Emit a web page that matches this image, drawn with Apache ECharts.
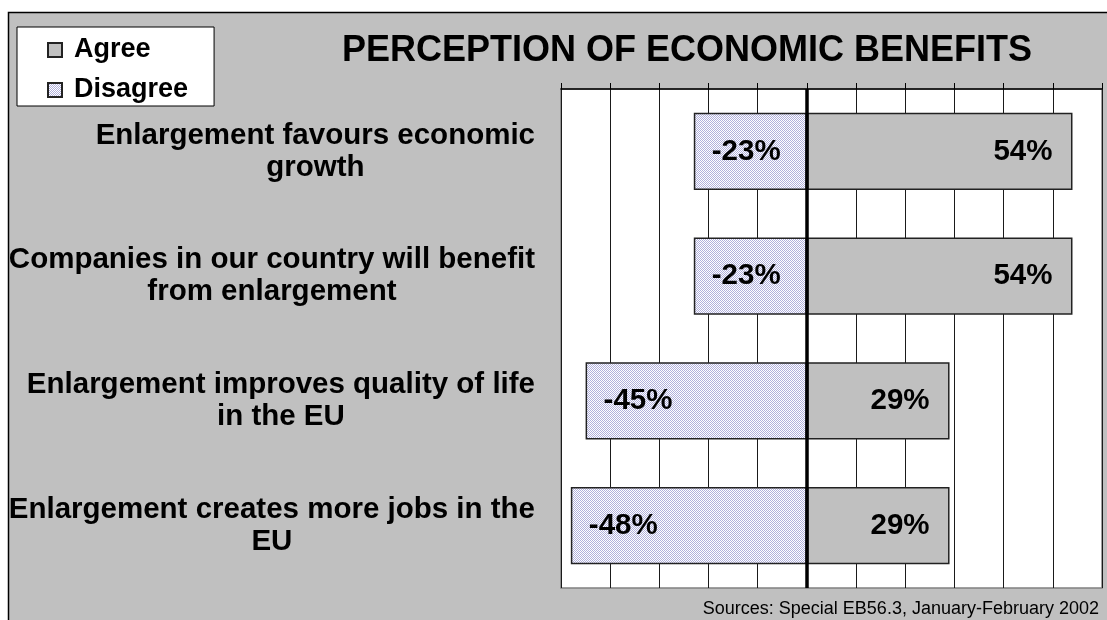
<!DOCTYPE html>
<html>
<head>
<meta charset="utf-8">
<script src="https://cdn.jsdelivr.net/npm/echarts@6/dist/echarts.min.js"></script>
<style>
  html, body { margin: 0; padding: 0; background: #fff; }
  #chart { width: 1107px; height: 620px; }
</style>
</head>
<body>
<div id="chart"></div>
<script>
// Survey statements (top to bottom) and answer shares in percent
const categories = [
  'Enlargement favours economic\ngrowth',
  'Companies in our country will benefit\nfrom enlargement',
  'Enlargement improves quality of life\nin the EU',
  'Enlargement creates more jobs in the\nEU'
];
const agree = [54, 54, 29, 29];
const disagree = [-23, -23, -45, -48];
const axisMin = -50;
const axisMax = 60;
const axisStep = 10;

const FONT = '"Liberation Sans", Arial, sans-serif';

// Fine dotted fill used for the "Disagree" bars
function dotPattern() {
  const c = document.createElement('canvas');
  c.width = 2; c.height = 2;
  const ctx = c.getContext('2d');
  ctx.fillStyle = '#ffffff';
  ctx.fillRect(0, 0, 2, 2);
  ctx.fillStyle = '#b0b0dc';
  ctx.fillRect(0, 0, 1, 1);
  ctx.fillRect(1, 1, 1, 1);
  return c;
}

const chart = echarts.init(document.getElementById('chart'), null, { renderer: 'canvas' });

const labelStyle = {
  show: true,
  fontFamily: FONT,
  fontSize: 29.5,
  fontWeight: 'bold',
  color: '#000',
  formatter: p => p.value + '%'
};

chart.setOption({
  backgroundColor: '#ffffff',
  animation: false,
  graphic: [
    {
      type: 'rect',
      z: -10,
      shape: { x: 8.5, y: 12.5, width: 1120, height: 640 },
      style: { fill: '#c0c0c0', stroke: '#000', lineWidth: 1.5 }
    },
    {
      type: 'text',
      right: 8,
      bottom: 2,
      style: {
        text: 'Sources: Special EB56.3, January-February 2002',
        font: '18px ' + FONT,
        fill: '#000'
      }
    }
  ],
  title: {
    text: 'PERCEPTION OF ECONOMIC BENEFITS',
    left: 342,
    top: 33,
    padding: 0,
    textStyle: { fontFamily: FONT, fontSize: 36, fontWeight: 'bold', color: '#000', lineHeight: 36 }
  },
  legend: {
    orient: 'vertical',
    left: 17,
    top: 27,
    backgroundColor: '#fff',
    borderColor: '#000',
    borderWidth: 1,
    padding: [8, 26, 1, 30],
    itemGap: 10,
    icon: 'rect',
    itemWidth: 14,
    itemHeight: 14,
    textStyle: {
      fontFamily: FONT, fontSize: 27, fontWeight: 'bold', color: '#000',
      lineHeight: 30, padding: [0, 0, 0, 7]
    },
    data: ['Agree', 'Disagree']
  },
  grid: {
    left: 561, right: 5, top: 89, bottom: 32,
    show: true,
    backgroundColor: '#fff',
    borderColor: '#808080',
    borderWidth: 1.5
  },
  xAxis: {
    type: 'value',
    position: 'top',
    min: axisMin,
    max: axisMax,
    interval: axisStep,
    axisLabel: { show: false },
    axisLine: { show: true, lineStyle: { color: '#000', width: 1.5 } },
    axisTick: { show: true, length: 6, lineStyle: { color: '#000', width: 1 } },
    splitLine: { show: true, lineStyle: { color: '#1a1a1a', width: 1 } }
  },
  yAxis: {
    type: 'category',
    inverse: true,
    data: categories,
    axisLine: { show: false },
    axisTick: { show: false },
    axisLabel: {
      margin: 26,
      formatter: v => v.split('\n').map(s => '{c|' + s + '}').join('\n'),
      rich: {
        c: { fontFamily: FONT, fontSize: 29.5, fontWeight: 'bold', color: '#000', align: 'center', lineHeight: 32 }
      }
    }
  },
  series: [
    {
      name: 'Agree',
      type: 'bar',
      data: agree,
      barWidth: '62%',
      barGap: '-100%',
      itemStyle: { color: '#c0c0c0', borderColor: '#222', borderWidth: 1.5 },
      label: Object.assign({ position: 'insideRight', distance: 20 }, labelStyle),
      markLine: {
        silent: true,
        symbol: 'none',
        label: { show: false },
        lineStyle: { color: '#000', width: 3.5, type: 'solid' },
        data: [{ xAxis: 0 }]
      }
    },
    {
      name: 'Disagree',
      type: 'bar',
      data: disagree,
      barWidth: '62%',
      itemStyle: { color: { image: dotPattern(), repeat: 'repeat' }, borderColor: '#222', borderWidth: 1.5 },
      label: Object.assign({ position: 'insideLeft', distance: 18 }, labelStyle)
    }
  ]
});
</script>
</body>
</html>
